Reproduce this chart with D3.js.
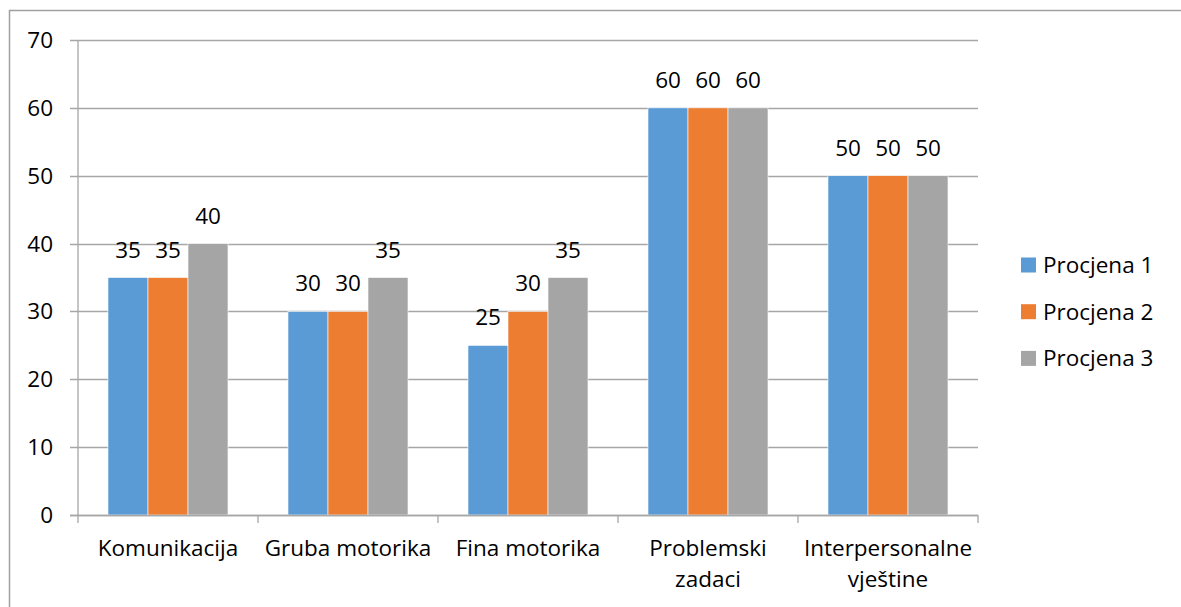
<!DOCTYPE html>
<html>
<head>
<meta charset="utf-8">
<script src="https://cdn.jsdelivr.net/npm/d3@7"></script>
<style>
  body { margin: 0; background: #fff; }
  text { font-family: "Open Sans", sans-serif; fill: #000; }
</style>
</head>
<body>
<script>
// podaci
var categories = ["Komunikacija", "Gruba motorika", "Fina motorika", "Problemski zadaci", "Interpersonalne vještine"];
var categoryLines = [["Komunikacija"], ["Gruba motorika"], ["Fina motorika"], ["Problemski", "zadaci"], ["Interpersonalne", "vještine"]];
var seriesNames = ["Procjena 1", "Procjena 2", "Procjena 3"];
var procjena1 = [35, 30, 25, 60, 50];
var procjena2 = [35, 30, 30, 60, 50];
var procjena3 = [40, 35, 35, 60, 50];
var yTicks = [0, 10, 20, 30, 40, 50, 60, 70];
var colors = ["#5B9BD5", "#ED7D31", "#A5A5A5"];

var series = [procjena1, procjena2, procjena3];
var width = 1181, height = 607;
var fs = 22.5;

var svg = d3.select("body")
    .append("svg")
    .attr("width", width)
    .attr("height", height);

// okvir grafikona
svg.append("rect")
    .attr("x", 9.5).attr("y", 10.5)
    .attr("width", 1200).attr("height", 700)
    .attr("fill", "none")
    .attr("stroke", "#A0A0A0")
    .attr("stroke-width", 1.5);

var x0 = d3.scaleBand()
    .domain(categories)
    .range([78, 978])
    .paddingInner(0)
    .paddingOuter(0);

var x1 = d3.scaleBand()
    .domain(seriesNames)
    .range([0, x0.bandwidth()])
    .paddingInner(0)
    .paddingOuter(0.25 / (1 - 0) * 1);

// the groups take 120 of 180 px: outer padding = 30px each side
x1.range([30, x0.bandwidth() - 30]).paddingOuter(0);

var y = d3.scaleLinear()
    .domain([0, 70])
    .range([515, 40]);

// mreža
svg.append("g")
    .selectAll("line")
    .data(yTicks)
    .enter()
    .append("line")
    .attr("x1", 70).attr("x2", 978)
    .attr("y1", function(d) { return Math.round(y(d)) + 0.5; })
    .attr("y2", function(d) { return Math.round(y(d)) + 0.5; })
    .attr("stroke", "#A6A6A6")
    .attr("stroke-width", 1.3);

// os y
svg.append("line")
    .attr("x1", 78).attr("x2", 78)
    .attr("y1", 40).attr("y2", 515)
    .attr("stroke", "#A6A6A6").attr("stroke-width", 1.3);

svg.append("g")
    .selectAll("text")
    .data(yTicks)
    .enter()
    .append("text")
    .attr("x", 53)
    .attr("y", function(d) { return y(d) + 8; })
    .attr("text-anchor", "end")
    .style("font-size", fs + "px")
    .text(function(d) { return d; });

// stupci
var groups = svg.append("g")
    .selectAll("g")
    .data(categories)
    .enter()
    .append("g")
    .attr("transform", function(d) { return "translate(" + x0(d) + ",0)"; });

groups.selectAll("rect")
    .data(function(d, i) { return series.map(function(s, j) { return { name: seriesNames[j], value: s[i], c: colors[j] }; }); })
    .enter()
    .append("rect")
    .attr("x", function(d) { return x1(d.name); })
    .attr("y", function(d) { return y(d.value); })
    .attr("width", x1.bandwidth())
    .attr("height", function(d) { return y(0) - y(d.value); })
    .attr("fill", function(d) { return d.c; })
    .attr("stroke", "#fff")
    .attr("stroke-width", 0.6);

groups.selectAll("text.val")
    .data(function(d, i) { return series.map(function(s, j) { return { name: seriesNames[j], value: s[i] }; }); })
    .enter()
    .append("text")
    .attr("class", "val")
    .attr("x", function(d) { return x1(d.name) + x1.bandwidth() / 2; })
    .attr("y", function(d) { return y(d.value) - 20; })
    .attr("text-anchor", "middle")
    .style("font-size", fs + "px")
    .text(function(d) { return d.value; });

// os x
svg.append("line")
    .attr("x1", 70).attr("x2", 978)
    .attr("y1", 515.5).attr("y2", 515.5)
    .attr("stroke", "#A6A6A6").attr("stroke-width", 1.3);

var tickPos = categories.map(function(c) { return x0(c); }).concat([978]);
svg.append("g")
    .selectAll("line")
    .data(tickPos)
    .enter()
    .append("line")
    .attr("x1", function(d) { return d; }).attr("x2", function(d) { return d; })
    .attr("y1", 515).attr("y2", 523)
    .attr("stroke", "#A6A6A6").attr("stroke-width", 1.3);

var catText = svg.append("g")
    .selectAll("text")
    .data(categories)
    .enter()
    .append("text")
    .attr("x", function(d) { return x0(d) + x0.bandwidth() / 2; })
    .attr("y", 556)
    .attr("text-anchor", "middle")
    .style("font-size", fs + "px");

catText.selectAll("tspan")
    .data(function(d, i) { return categoryLines[i]; })
    .enter()
    .append("tspan")
    .attr("x", function() { var p = this.parentNode; return p.getAttribute("x"); })
    .attr("dy", function(d, i) { return i === 0 ? 0 : 31; })
    .text(function(d) { return d; });

// legenda
var legend = svg.append("g")
    .selectAll("g")
    .data(seriesNames)
    .enter()
    .append("g")
    .attr("transform", function(d, i) { return "translate(1021," + (265 + i * 46.7) + ")"; });

legend.append("rect")
    .attr("x", 0).attr("y", -7.5)
    .attr("width", 15).attr("height", 15)
    .attr("fill", function(d, i) { return colors[i]; });

legend.append("text")
    .attr("x", 22)
    .attr("y", 8)
    .style("font-size", fs + "px")
    .text(function(d) { return d; });
</script>
</body>
</html>
